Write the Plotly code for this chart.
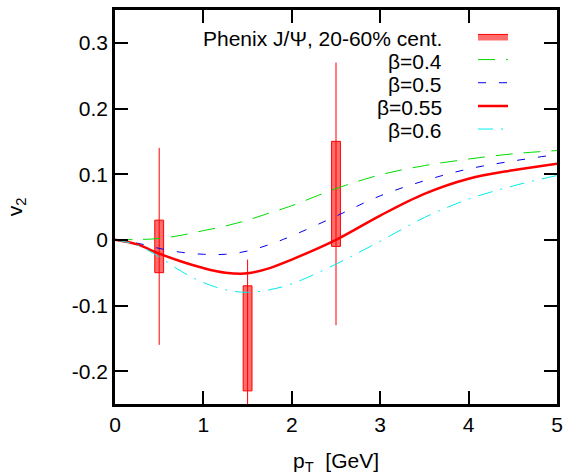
import plotly.graph_objects as go

# theory curves v2(pT) for several beta values
pt = [0, 0.25, 0.5, 0.75, 1.0, 1.25, 1.5, 1.75, 2.0, 2.5, 3.0, 3.5, 4.0, 4.5, 5.0]
v2_b040 = [0, 0.0005, 0.002, 0.007, 0.014, 0.021, 0.030, 0.041, 0.052, 0.078, 0.099, 0.113, 0.123, 0.131, 0.136]
v2_b050 = [0, -0.005, -0.013, -0.019, -0.022, -0.022, -0.017, -0.007, 0.006, 0.036, 0.067, 0.090, 0.108, 0.120, 0.130]
v2_b055 = [0, -0.007, -0.021, -0.033, -0.043, -0.050, -0.051, -0.043, -0.030, 0.000, 0.037, 0.070, 0.093, 0.106, 0.116]
v2_b060 = [0, -0.008, -0.026, -0.048, -0.065, -0.076, -0.080, -0.076, -0.067, -0.037, -0.002, 0.034, 0.062, 0.082, 0.098]

# Phenix J/Psi data, 20-60% centrality
data_pt = [0.5, 1.5, 2.5]
data_v2 = [-0.01, -0.15, 0.07]
data_stat = [0.15, 0.12, 0.20]
data_sys = [0.04, 0.08, 0.08]

curve_labels = ["β=0.4", "β=0.5", "β=0.55", "β=0.6"]
data_label = "Phenix J/Ψ, 20-60% cent."

FONT = "Liberation Sans, Arial, sans-serif"
box_hw = 0.05

# build systematic boxes as closed polygons
bx, by = [], []
for x, y, s in zip(data_pt, data_v2, data_sys):
    bx += [x - box_hw, x + box_hw, x + box_hw, x - box_hw, x - box_hw, None]
    by += [y - s, y - s, y + s, y + s, y - s, None]

fig = go.Figure()
fig.add_scatter(x=bx, y=by, mode="lines", fill="toself",
                fillcolor="rgba(255,30,30,0.65)", line=dict(color="red", width=1),
                name=" ", hoverinfo="skip")
fig.add_scatter(x=data_pt, y=data_v2, mode="markers", marker=dict(size=1, color="red", opacity=0),
                error_y=dict(type="data", array=data_stat, width=0, thickness=1, color="red"),
                showlegend=False)

styles = [
    dict(color="#00dd00", width=1, dash="17px,11px"),
    dict(color="#0000ee", width=1, dash="8px,13px"),
    dict(color="red", width=2.5, dash="solid"),
    dict(color="#00eeee", width=1, dash="15px,8px,2px,8px"),
]
for ys, st in zip([v2_b040, v2_b050, v2_b055, v2_b060], styles):
    fig.add_scatter(x=pt, y=ys, mode="lines", line=dict(shape="spline", **st), name=" ")

# legend labels written to the left of the samples (plot area is 442 x 394 px)
for i, lab in enumerate([data_label] + curve_labels):
    fig.add_annotation(x=(444 - 115) / 442, y=1 - (28 + i * 23) / 394,
                       xref="x domain", yref="y domain",
                       text=lab, showarrow=False, xanchor="right", yanchor="middle",
                       font=dict(size=21, color="black", family=FONT))

axis = dict(showline=True, linecolor="black", linewidth=2.5, mirror="ticks",
            ticks="inside", ticklen=13, tickwidth=2, tickcolor="black",
            showgrid=False, zeroline=False,
            tickfont=dict(size=21, color="black", family=FONT))

fig.update_xaxes(range=[0, 5], dtick=1, title=dict(text="p<sub>T</sub>  [GeV]", standoff=22,
                 font=dict(size=21, family=FONT, color="black")), **axis)
fig.update_yaxes(range=[-0.25, 0.35], tickvals=[-0.2, -0.1, 0, 0.1, 0.2, 0.3],
                 ticktext=["-0.2", "-0.1", "0", "0.1", "0.2", "0.3"],
                 title=dict(text="v<sub>2</sub>", standoff=44,
                 font=dict(size=21, family=FONT, color="black")), **axis)

fig.update_layout(
    width=567, height=475,
    margin=dict(l=115, r=10, t=10, b=71, autoexpand=False),
    plot_bgcolor="white", paper_bgcolor="white",
    font=dict(family=FONT, color="black"),
    legend=dict(x=0.81, y=0.975, xanchor="left", yanchor="top",
                bgcolor="rgba(0,0,0,0)", font=dict(size=15.5), tracegroupgap=0,
                itemwidth=30),
)

# drop the default body margin so the figure fills the window exactly
fig.write_html("out.html", config={"displayModeBar": False},
               post_script="document.body.style.margin='0';document.body.style.overflow='hidden';")
